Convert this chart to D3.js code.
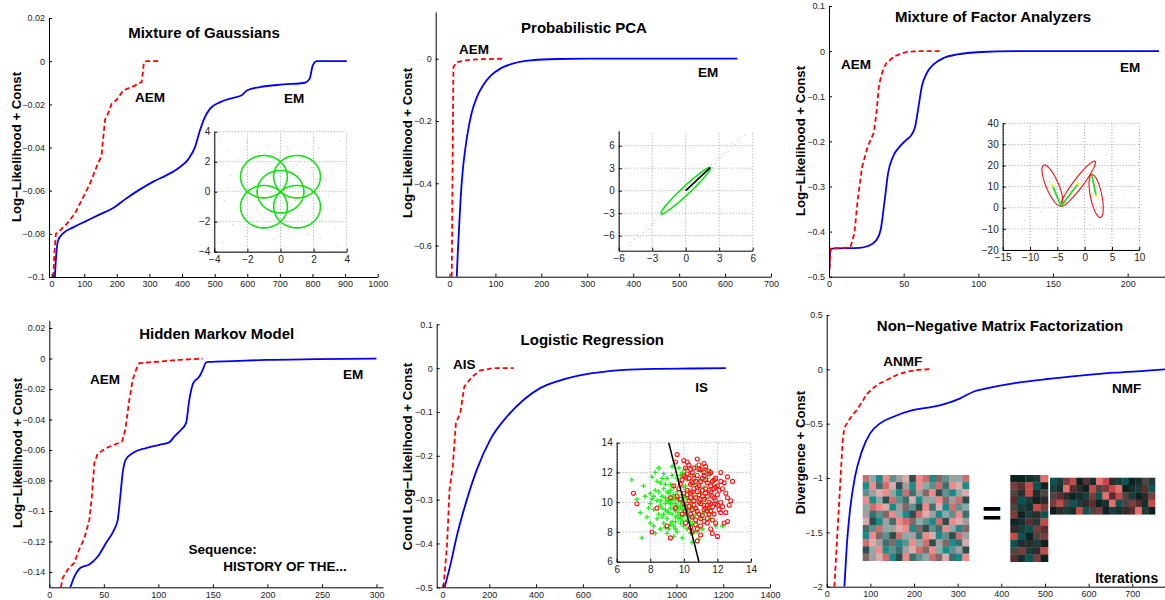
<!DOCTYPE html>
<html>
<head>
<meta charset="utf-8">
<script src="https://cdnjs.cloudflare.com/ajax/libs/d3/7.8.5/d3.min.js"></script>
<style>
    body { margin: 0; background: #fff; }
    svg text { font-family: "Liberation Sans", Arial, sans-serif; }
</style>
</head>
<body>
<script>
// ---- curves: [iteration, value] ----
const mogAem = [[5,-0.1],[9,-0.088],[13,-0.08],[25,-0.0785],[46,-0.0755],[72,-0.0705],[97,-0.063],[117,-0.057],[143,-0.047],[153,-0.044],[158,-0.036],[164,-0.027],[174,-0.024],[184,-0.0197],[199,-0.018],[220,-0.0135],[250,-0.0117],[276,-0.0097],[280,-0.005],[283,-0.0005],[291,0],[332,0]];
const mogEm = [[10,-0.1],[14,-0.09],[20,-0.083],[36,-0.0797],[66,-0.077],[107,-0.074],[148,-0.071],[189,-0.068],[230,-0.0635],[271,-0.0594],[312,-0.0558],[353,-0.0528],[394,-0.049],[419,-0.0455],[440,-0.0397],[455,-0.032],[468,-0.0266],[486,-0.022],[517,-0.019],[557,-0.017],[583,-0.0158],[600,-0.0135],[639,-0.012],[711,-0.0108],[777,-0.01],[791,-0.0082],[801,-0.002],[813,0],[905,0]];

const ppcaAem = [[5,-0.7],[7,-0.3],[8.6,-0.027],[15.8,-0.011],[37,-0.005],[59,-0.002],[120,0]];
const ppcaEm = [[15.8,-0.7],[18,-0.626],[21,-0.54],[24.5,-0.444],[29,-0.358],[34,-0.294],[40,-0.235],[48,-0.176],[59,-0.126],[73,-0.086],[91,-0.053],[113,-0.03],[142,-0.014],[181,-0.005],[232,-0.001],[304,0],[627,0]];

const mfaAem = [[0,-0.5],[1.1,-0.437],[3.4,-0.437],[11.3,-0.436],[14.7,-0.431],[17,-0.404],[19.2,-0.33],[22.2,-0.256],[26,-0.211],[30,-0.181],[31.7,-0.139],[33.5,-0.074],[36.2,-0.041],[38.5,-0.026],[44,-0.011],[52,-0.0015],[61,0],[74.7,0]];
const mfaEm = [[0,-0.5],[1.1,-0.44],[3.4,-0.437],[20.4,-0.436],[26,-0.432],[31.7,-0.419],[34.6,-0.396],[37.3,-0.33],[39.6,-0.27],[43,-0.233],[47.5,-0.211],[52,-0.196],[55.4,-0.185],[57.7,-0.167],[60,-0.122],[62.2,-0.078],[65.6,-0.048],[70,-0.0296],[77,-0.0148],[86,-0.0074],[102,-0.002],[124,0],[221,0]];

const hmmAem = [[10.7,-0.15],[12.2,-0.144],[16.8,-0.1385],[22.9,-0.134],[27.5,-0.125],[32.1,-0.118],[36.7,-0.106],[39.1,-0.09],[41.3,-0.0686],[44.3,-0.0625],[52,-0.0587],[59.6,-0.0566],[66.7,-0.0544],[69.7,-0.0467],[73.4,-0.027],[76.5,-0.014],[79.5,-0.0074],[82.6,-0.003],[101,-0.002],[119,-0.0009],[140.7,0]];
const hmmEm = [[19.3,-0.15],[23,-0.143],[29,-0.137],[36.7,-0.135],[44.3,-0.13],[52,-0.121],[59.6,-0.112],[62.7,-0.106],[64.8,-0.0926],[67.3,-0.075],[70.3,-0.066],[76.5,-0.062],[88.7,-0.0587],[101,-0.0566],[110,-0.055],[114.7,-0.0511],[120.8,-0.0467],[125.4,-0.0424],[128.4,-0.027],[132,-0.0162],[137.6,-0.0118],[140.7,-0.0074],[143.7,-0.0026],[146.8,-0.0022],[168,-0.0017],[199,-0.0009],[245,-0.0004],[300,0]];

const lrAis = [[4,-0.5],[19,-0.405],[30,-0.277],[44,-0.223],[57,-0.125],[76,-0.102],[93,-0.042],[126,-0.02],[161,-0.0053],[219,0],[304,0]];
const lrIs = [[9,-0.5],[33,-0.45],[61,-0.383],[104,-0.3],[147,-0.231],[204,-0.163],[276,-0.11],[347,-0.072],[419,-0.045],[490,-0.03],[576,-0.0174],[661,-0.01],[776,-0.0038],[919,-0.0015],[1061,-0.0008],[1211,0]];

const nmfAnmf = [[17.6,-2],[24.5,-1.51],[30.6,-1.08],[36.7,-0.65],[40.5,-0.537],[53.5,-0.45],[68.8,-0.374],[84,-0.282],[90,-0.236],[103,-0.184],[118.5,-0.135],[137.6,-0.098],[160.6,-0.052],[183.5,-0.0215],[206.4,-0.006],[240.8,0.003]];
const nmfNmf = [[40.5,-2],[45.9,-1.63],[53.5,-1.29],[65,-0.985],[80.3,-0.757],[99.4,-0.589],[122.3,-0.497],[153,-0.436],[199,-0.374],[245,-0.344],[275,-0.313],[306,-0.267],[336,-0.206],[367,-0.175],[428,-0.129],[505,-0.089],[581,-0.058],[658,-0.031],[734,-0.012],[776,0]];

// ---- tick labels ----
const mogXTicks = [0,100,200,300,400,500,600,700,800,900,1000];
const mogYTicks = [-0.1,-0.08,-0.06,-0.04,-0.02,0,0.02];
const ppcaXTicks = [0,100,200,300,400,500,600,700];
const ppcaYTicks = [-0.6,-0.4,-0.2,0];
const mfaXTicks = [0,50,100,150,200];
const mfaYTicks = [-0.5,-0.4,-0.3,-0.2,-0.1,0,0.1];
const hmmXTicks = [0,50,100,150,200,250,300];
const hmmYTicks = [-0.14,-0.12,-0.1,-0.08,-0.06,-0.04,-0.02,0,0.02];
const lrXTicks = [0,200,400,600,800,1000,1200,1400];
const lrYTicks = [-0.5,-0.4,-0.3,-0.2,-0.1,0,0.1];
const nmfXTicks = [0,100,200,300,400,500,600,700];
const nmfYTicks = [-2,-1.5,-1,-0.5,0,0.5];

const mogInsetTicks = [-4,-2,0,2,4];
const ppcaInsetTicks = [-6,-3,0,3,6];
const mfaInsetXTicks = [-15,-10,-5,0,5,10];
const mfaInsetYTicks = [-20,-10,0,10,20,30,40];
const lrInsetTicks = [6,8,10,12,14];

// ---- inset contents ----
const mogCenters = [[-1,1],[1,1],[0,0],[-1,-1],[1,-1]];
const mogRadius = 1.414;
const mogCloud = [[-3.2,2.8],[-2.7,-1.2],[-2.4,0.6],[-2.1,-2.9],[-1.8,1.9],[-1.5,-0.4],[-1.3,2.6],[-1.1,-1.8],[-0.9,0.9],[-0.7,-2.6],[-0.5,1.5],[-0.3,-0.9],[-0.1,2.2],[0.1,-1.4],[0.3,0.4],[0.5,-2.2],[0.7,1.2],[0.9,-0.6],[1.1,2.4],[1.3,-1.6],[1.5,0.2],[1.7,-2.8],[1.9,1.6],[2.1,-0.8],[2.3,2.9],[2.5,-1.9],[2.7,0.8],[2.9,-0.2],[3.1,1.4],[3.3,-2.5],[-3.4,-0.6],[-3.0,1.1],[-2.9,-2.2],[-2.6,2.2],[-2.2,-0.9],[-1.9,0.1],[-1.6,-2.3],[-1.2,0.5],[-0.8,3.1],[-0.4,-3.2],[0.0,1.0],[0.4,3.0],[0.8,-3.0],[1.2,0.8],[1.6,3.2],[2.0,0.0],[2.4,-3.1],[2.8,2.0],[3.2,-1.2],[-2.0,3.3],[0.2,-0.2],[-0.6,0.3],[0.6,-1.0],[1.0,1.8],[-1.4,-1.2],[-3.6,3.5],[3.6,3.4],[-3.5,-3.4],[3.5,-3.6]];

const ppcaCloud = [[-5,-7.3],[-4.6,-6.5],[-4.2,-6.2],[-3.8,-5.6],[-3.5,-4.8],[-3.1,-4.6],[-2.8,-3.9],[-2.5,-3.6],[-2.2,-3.3],[-1.9,-2.5],[-1.6,-2.4],[-1.3,-1.7],[-1.0,-1.6],[-0.7,-0.8],[-0.4,-0.7],[-0.1,0.1],[0.2,0.2],[0.5,0.9],[0.8,1.0],[1.1,1.7],[1.4,1.9],[1.7,2.6],[2.0,2.8],[2.3,3.5],[2.6,3.6],[2.9,4.3],[3.2,4.4],[3.5,5.1],[3.8,5.2],[4.1,5.9],[4.4,6.1],[4.7,6.7],[5.0,6.9],[5.3,7.4],[-4.9,-6.9],[-3.3,-5.1],[-2.9,-4.4],[-2.0,-3.0],[-1.2,-2.0],[-0.3,-0.2],[0.6,0.6],[1.5,2.3],[2.4,3.1],[3.3,4.8],[4.2,6.4],[4.9,7.2],[-4.4,-5.9],[-3.6,-5.3],[1.0,1.2],[2.8,3.9]];

const mfaCenters = [[-5.9,10.5],[-1.2,11.4],[2.1,5.6]];
const mfaTips = [[-4.3,0.8],[-4.3,0.8],[1.3,15.8]];
const mfaWidths = [0.28,0.17,0.26];
const mfaCloud = [[-8,18],[-7.2,15],[-6.5,12],[-6.8,8],[-5.5,6],[-5,3],[-4.5,1],[-3.8,-1],[-4.2,4],[-3,5],[-2.5,8],[-1.5,10],[-0.5,13],[0.5,16],[1.2,18],[2,20],[-2,6],[-1,9],[0,11],[1,14],[1.5,12],[2,8],[2.5,4],[3,0],[3.2,-3],[2.8,2],[1.8,6],[2.2,10],[-6,14],[-7,10],[-5.2,9],[-3.5,3],[-9,5],[-10,12],[4,-8],[5,-2],[-2,-5],[0,-2],[-4,15],[3,14],[-8,-2],[6,18],[-11,-6],[1,-8],[-6,24],[4,25],[-12,16],[7,6]];

const ppcaAxisStart = [0,0];
const ppcaAxisTip = [2.2,3.07];
const ppcaWidth = 0.12;

const lrBoundary = [[9.1,14],[10.9,6]];
const lrGreen = [[6.9,11.5],[7.5,7.6],[7.2,10.2],[7.6,11.1],[7.8,9.0],[8.0,8.6],[8.1,11.7],[8.3,12.0],[8.0,10.6],[7.9,9.6],[8.3,7.9],[8.5,12.3],[8.6,8.2],[8.8,11.9],[9.3,12.4],[9.7,12.3],[10.1,12.2],[10.7,12.4],[11.0,12.1],[11.3,12.2],[11.9,8.4],[11.6,8.9],[11.2,11.0],[10.9,7.5],[10.5,7.3],[9.9,7.6],[9.4,7.7],[9.0,7.9],[8.9,8.3],[9.6,8.0],[8.5,9.2],[8.6,9.8],[8.7,10.4],[8.8,10.9],[8.9,9.5],[9.0,10.1],[9.0,8.9],[9.1,10.6],[9.1,9.3],[9.2,11.2],[9.2,9.9],[9.3,10.4],[9.3,8.7],[9.4,9.6],[9.4,11.0],[9.5,10.2],[9.5,9.0],[9.6,9.8],[9.6,10.7],[9.7,9.3],[9.7,11.4],[9.8,10.0],[9.8,8.6],[9.9,10.5],[9.9,9.5],[10.0,11.0],[10.0,9.1],[10.1,9.8],[10.1,10.3],[10.2,8.8],[10.3,9.5],[10.3,10.8],[10.4,9.9],[10.5,8.5],[10.6,10.4],[10.7,9.2],[10.8,8.0],[8.4,10.1],[8.2,9.5],[8.6,11.3],[8.8,8.6],[9.0,11.6],[9.4,8.4],[9.8,11.8],[10.2,11.5],[10.4,11.9],[10.6,11.2],[10.9,10.0],[11.0,9.0],[11.3,10.2],[11.5,9.6],[8.3,10.8],[8.9,10.3],[9.2,9.6],[9.5,9.4],[9.7,10.1],[10.0,9.7],[9.6,9.1],[9.3,9.9],[8.7,9.0],[9.1,8.2],[9.5,8.2],[10.2,8.2],[10.6,8.0],[10.4,7.9],[10.0,8.4],[11.2,9.3],[10.9,11.5],[11.5,12.0],[12.3,8.4],[8.1,10.2],[8.4,8.9],[8.7,11.6],[9.2,10.8],[9.8,9.0],[10.3,10.2],[9.4,10.5],[8.9,11.2],[9.6,11.6],[10.1,11.1],[8.2,10.4],[8.5,10.7],[8.7,9.6],[8.9,9.9],[9.0,9.4],[9.1,10.0],[9.2,10.1],[9.3,9.2],[9.4,10.2],[9.5,9.9],[9.6,10.3],[9.7,9.6],[9.8,9.7],[9.9,10.1],[10.0,10.4],[10.1,9.2],[10.2,9.6],[10.3,9.0],[10.5,9.7],[10.6,9.0],[8.6,10.1],[8.8,9.2],[9.0,10.7],[9.2,8.5],[9.5,8.7],[9.7,8.9],[9.9,8.8],[10.4,8.7],[10.8,8.6],[11.1,8.2],[8.0,9.9],[7.7,10.4],[8.4,11.4],[9.3,11.8],[9.9,12.0],[10.6,11.8],[11.0,10.6],[11.4,11.6],[7.4,9.3],[8.2,8.4]];
const lrRed = [[7.0,10.6],[7.2,9.9],[8.1,8.0],[8.4,9.6],[9.2,7.6],[9.0,8.4],[9.6,13.2],[9.5,12.7],[10.0,12.8],[10.2,12.7],[10.3,12.5],[10.8,12.9],[11.2,12.0],[11.5,11.9],[11.9,11.6],[12.2,12.0],[12.9,11.4],[12.6,10.3],[12.7,9.8],[12.5,9.3],[12.6,8.7],[12.2,9.3],[12.0,7.7],[11.6,8.2],[11.4,8.6],[11.0,7.8],[10.8,7.4],[10.5,8.0],[11.7,7.9],[12.3,10.9],[12.4,8.6],[11.9,8.6],[9.7,10.9],[9.8,10.2],[9.9,11.5],[10.0,10.6],[10.1,9.4],[10.2,11.9],[10.3,10.1],[10.4,11.2],[10.4,9.2],[10.5,10.7],[10.5,12.0],[10.6,9.8],[10.6,11.6],[10.7,10.3],[10.7,8.8],[10.8,11.0],[10.8,9.4],[10.9,12.2],[10.9,10.5],[11.0,9.9],[11.0,11.4],[11.1,10.8],[11.1,9.1],[11.2,10.2],[11.2,11.8],[11.3,9.6],[11.3,10.9],[11.4,10.4],[11.4,11.3],[11.5,9.2],[11.5,10.0],[11.6,10.7],[11.6,11.1],[11.7,9.7],[11.8,10.3],[11.8,10.9],[11.9,9.9],[12.0,10.5],[12.0,11.1],[12.1,9.5],[10.2,10.5],[10.3,11.6],[10.0,9.9],[9.6,10.4],[9.9,9.2],[10.1,8.6],[10.4,8.3],[10.8,8.2],[11.2,8.7],[11.0,8.4],[10.5,9.5],[10.7,9.6],[10.9,10.0],[11.1,10.4],[11.3,11.5],[10.6,10.9],[10.8,11.8],[11.0,12.2],[10.4,10.3],[9.4,11.1],[9.2,10.3],[9.5,9.6],[11.7,8.8],[12.2,10.0],[12.4,11.3],[11.5,12.1],[10.1,12.3],[11.9,10.1],[11.4,9.8],[10.9,9.2],[11.7,11.4],[10.6,12.3],[10.2,10.8],[10.4,10.6],[10.5,11.3],[10.6,10.1],[10.7,11.4],[10.8,10.7],[10.9,11.1],[11.0,10.2],[11.1,11.6],[11.2,9.8],[11.3,10.6],[11.4,9.4],[11.5,10.8],[11.6,9.9],[11.7,10.4],[11.8,11.5],[11.9,11.0],[12.0,9.8],[12.1,10.8],[12.2,11.4],[10.3,9.7],[10.5,9.0],[10.7,8.5],[11.0,8.9],[11.2,9.5],[11.4,8.9],[11.6,9.4],[11.8,9.2],[12.3,9.7],[12.5,10.6],[10.1,11.7],[10.4,12.2],[10.9,12.5],[11.3,12.4],[11.6,12.0],[11.2,12.6],[9.8,11.2],[10.0,11.8],[12.8,10.1],[12.6,11.7]];

// ---- NMF matrices: each digit is a colour index ----
const nmfV = ["4812536024175384","1294603128549261","5362814937205186","2180459613827340","8426137502961458","3957281046318529","6013924785140263","9548362170592817","1275048392615043","4639715284037196","0821593647281530","7364102958476912"];
const nmfW = ["00916","82350","47394","25107","41938","80175","09213","71582","35048","59710","48173","29580"];
const nmfH = ["5183029637150941","1962703483609125","4270918562341078","8345172096548293","0719354801972610"];
const lightColors = ["#2e4e4c","#178c8a","#f08a8a","#a39d9d","#cf6c6c","#5f908c","#d9abab","#806868","#8aaaa8","#3c706e"];
const darkColors = ["#0e2222","#1e3c3a","#5a2e2e","#c44a4a","#4e4444","#0b5451","#e86e6e","#2c2c2c","#7a3c3c","#16302e"];

// ---- drawing ----
const fmt = d3.format("~g");
const svg = d3.select("body").append("svg").attr("width", 1165).attr("height", 600);

function styleAxis(sel, size) {
    sel.select(".domain").attr("stroke", "#000").attr("stroke-width", 1);
    sel.selectAll(".tick line").attr("stroke", "#000");
    sel.selectAll(".tick text").attr("font-size", size).attr("fill", "#222")
        .attr("font-family", "'Liberation Sans', Arial, sans-serif");
    sel.attr("font-size", null).attr("font-family", null);
}

function axes(g, x, y, xt, yt, size) {
    g.append("g").attr("transform", `translate(0,${y.range()[0]})`)
        .call(d3.axisBottom(x).tickValues(xt).tickFormat(fmt).tickSize(-3).tickSizeOuter(0).tickPadding(4))
        .call(s => styleAxis(s, size));
    g.append("g").attr("transform", `translate(${x.range()[0]},0)`)
        .call(d3.axisLeft(y).tickValues(yt).tickFormat(fmt).tickSize(-3).tickSizeOuter(0).tickPadding(4))
        .call(s => styleAxis(s, size));
}

function label(text, x, y, opts = {}) {
    const t = svg.append("text").text(text)
        .attr("x", x).attr("y", y)
        .attr("text-anchor", "middle")
        .attr("dominant-baseline", "central")
        .attr("font-size", opts.size || 13.5)
        .attr("font-weight", "bold")
        .attr("fill", "#000");
    if (opts.rotate) t.attr("transform", `rotate(-90,${x},${y})`);
    return t;
}
const title = (text, x, y) => label(text, x, y, { size: 15 });
const ylabel = (text, x, y) => label(text, x, y, { size: 13.2, rotate: true });

let clipId = 0;
function panel(p) {
    const x = d3.scaleLinear().domain(p.xDomain).range(p.xRange);
    const y = d3.scaleLinear().domain(p.yDomain).range(p.yRange);
    const g = svg.append("g");
    const id = "clip" + (clipId++);
    g.append("clipPath").attr("id", id).append("rect")
        .attr("x", p.xRange[0]).attr("y", p.yRange[1])
        .attr("width", p.xRange[1] - p.xRange[0]).attr("height", p.yRange[0] - p.yRange[1]);
    const plot = g.append("g").attr("clip-path", `url(#${id})`);
    plot.append("path").datum(p.solid)
        .attr("fill", "none").attr("stroke", "#0000ff").attr("stroke-width", 1.8)
        .attr("d", d3.line().x(d => x(d[0])).y(d => y(d[1])).curve(d3.curveMonotoneX));
    plot.append("path").datum(p.dashed)
        .attr("fill", "none").attr("stroke", "#ff0000").attr("stroke-width", 1.8)
        .attr("stroke-dasharray", "5,3")
        .attr("d", d3.line().x(d => x(d[0])).y(d => y(d[1])));
    axes(g, x, y, p.xTicks, p.yTicks, 9);
    return { x, y };
}

function inset(p) {
    const x = d3.scaleLinear().domain(p.xDomain).range(p.xRange);
    const y = d3.scaleLinear().domain(p.yDomain).range(p.yRange);
    const g = svg.append("g");
    g.append("rect").attr("x", p.xRange[0]).attr("y", p.yRange[1])
        .attr("width", p.xRange[1] - p.xRange[0]).attr("height", p.yRange[0] - p.yRange[1])
        .attr("fill", "#fff");
    g.selectAll(".gx").data(p.xTicks).enter().append("line")
        .attr("x1", d => x(d)).attr("x2", d => x(d))
        .attr("y1", p.yRange[0]).attr("y2", p.yRange[1])
        .attr("stroke", "#888").attr("stroke-width", 0.8).attr("stroke-dasharray", "1,2");
    g.selectAll(".gy").data(p.yTicks).enter().append("line")
        .attr("y1", d => y(d)).attr("y2", d => y(d))
        .attr("x1", p.xRange[0]).attr("x2", p.xRange[1])
        .attr("stroke", "#888").attr("stroke-width", 0.8).attr("stroke-dasharray", "1,2");
    if (p.cloud) {
        g.selectAll(".pt").data(p.cloud).enter().append("rect")
            .attr("x", d => x(d[0]) - 0.6).attr("y", d => y(d[1]) - 0.6)
            .attr("width", 1.2).attr("height", 1.2)
            .attr("fill", "#b4b4ee").attr("opacity", 0.7);
    }
    const content = g.append("g");
    axes(g, x, y, p.xTicks, p.yTicks, 10);
    return { x, y, g: content };
}

// ellipse drawn in pixel space from a centre, a tip (end of major semi-axis) and a width ratio
function ellipsePath(x, y, c, t, ratio) {
    const cx = x(c[0]), cy = y(c[1]);
    const ux = x(t[0]) - cx, uy = y(t[1]) - cy;
    const px = -uy * ratio, py = ux * ratio;
    const angles = d3.range(0, 2 * Math.PI + 0.01, Math.PI / 40);
    return d3.line()(angles.map(a => [cx + ux * Math.cos(a) + px * Math.sin(a), cy + uy * Math.cos(a) + py * Math.sin(a)]));
}

// Panel 1: Mixture of Gaussians
panel({ xDomain: [-8, 1000], xRange: [49, 377.7], yDomain: [-0.1, 0.02], yRange: [277, 18],
    solid: mogEm, dashed: mogAem, xTicks: mogXTicks, yTicks: mogYTicks });
title("Mixture of Gaussians", 204, 32);
ylabel("Log\u2212Likelihood + Const", 16, 147);
label("AEM", 150, 97);
label("EM", 294, 98);
{
    const ins = inset({ xDomain: [-4, 4], xRange: [214.3, 346.7], yDomain: [-4, 4], yRange: [251.7, 131.7],
        xTicks: mogInsetTicks, yTicks: mogInsetTicks, cloud: mogCloud });
    const angles = d3.range(0, 2 * Math.PI + 0.01, Math.PI / 40);
    ins.g.selectAll("path").data(mogCenters).enter().append("path")
        .attr("fill", "none").attr("stroke", "#14e014").attr("stroke-width", 1.6)
        .attr("d", c => d3.line()(angles.map(a => [ins.x(c[0] + mogRadius * Math.cos(a)), ins.y(c[1] + mogRadius * Math.sin(a))])));
}

// Panel 2: Probabilistic PCA
panel({ xDomain: [-30, 700], xRange: [435.7, 771], yDomain: [-0.7, 0.15], yRange: [276.7, 12],
    solid: ppcaEm, dashed: ppcaAem, xTicks: ppcaXTicks, yTicks: ppcaYTicks });
title("Probabilistic PCA", 584, 27);
ylabel("Log\u2212Likelihood + Const", 407, 143);
label("AEM", 474, 49);
label("EM", 708, 72);
{
    const ins = inset({ xDomain: [-6, 6], xRange: [618.7, 752.7], yDomain: [-8, 8], yRange: [250.7, 130.7],
        xTicks: ppcaInsetTicks, yTicks: ppcaInsetTicks, cloud: ppcaCloud });
    ins.g.append("path").attr("fill", "none").attr("stroke", "#14e014").attr("stroke-width", 1.6)
        .attr("d", ellipsePath(ins.x, ins.y, ppcaAxisStart, ppcaAxisTip, ppcaWidth));
    ins.g.append("line")
        .attr("x1", ins.x(ppcaAxisStart[0])).attr("y1", ins.y(ppcaAxisStart[1]))
        .attr("x2", ins.x(ppcaAxisTip[0])).attr("y2", ins.y(ppcaAxisTip[1]))
        .attr("stroke", "#000").attr("stroke-width", 1.6);
}

// Panel 3: Mixture of Factor Analyzers
panel({ xDomain: [0, 225], xRange: [829, 1165], yDomain: [-0.5, 0.1], yRange: [276.7, 6],
    solid: mfaEm, dashed: mfaAem, xTicks: mfaXTicks, yTicks: mfaYTicks });
title("Mixture of Factor Analyzers", 993, 16);
ylabel("Log\u2212Likelihood + Const", 800, 141);
label("AEM", 856, 64);
label("EM", 1130, 67);
{
    const ins = inset({ xDomain: [-15, 10], xRange: [1002.7, 1139.3], yDomain: [-20, 40], yRange: [250, 123.3],
        xTicks: mfaInsetXTicks, yTicks: mfaInsetYTicks, cloud: mfaCloud });
    ins.g.selectAll(".ell").data(mfaCenters).enter().append("path")
        .attr("fill", "none").attr("stroke", "#ee1111").attr("stroke-width", 1.1)
        .attr("d", (c, i) => ellipsePath(ins.x, ins.y, c, mfaTips[i], mfaWidths[i]));
    ins.g.selectAll(".ld").data(mfaCenters).enter().append("line")
        .attr("x1", c => ins.x(c[0])).attr("y1", c => ins.y(c[1]))
        .attr("x2", (c, i) => ins.x(mfaTips[i][0])).attr("y2", (c, i) => ins.y(mfaTips[i][1]))
        .attr("stroke", "#22dd22").attr("stroke-width", 1.8);
    ins.g.selectAll(".ctr").data(mfaCenters).enter().append("rect")
        .attr("x", c => ins.x(c[0]) - 1.5).attr("y", c => ins.y(c[1]) - 1.5)
        .attr("width", 3).attr("height", 3).attr("fill", "#eeff22");
}

// Panel 4: Hidden Markov Model
panel({ xDomain: [0, 306], xRange: [49.3, 383], yDomain: [-0.15, 0.025], yRange: [587.3, 320.4],
    solid: hmmEm, dashed: hmmAem, xTicks: hmmXTicks, yTicks: hmmYTicks });
title("Hidden Markov Model", 216.7, 333);
ylabel("Log\u2212Likelihood + Const", 17, 453);
label("AEM", 105, 379);
label("EM", 353, 374);
label("Sequence:", 222.7, 549);
label("HISTORY OF THE...", 285, 566.7);

// Panel 5: Logistic Regression
panel({ xDomain: [-25, 1400], xRange: [436.7, 770], yDomain: [-0.5, 0.1], yRange: [587.3, 324.3],
    solid: lrIs, dashed: lrAis, xTicks: lrXTicks, yTicks: lrYTicks });
title("Logistic Regression", 592.3, 339.3);
ylabel("Cond Log\u2212Likelihood + Const", 407.3, 456.7);
label("AIS", 464.3, 364.3);
label("IS", 701.7, 387.3);
{
    const ins = inset({ xDomain: [6, 14], xRange: [616.7, 751], yDomain: [6, 14], yRange: [561.7, 442.7],
        xTicks: lrInsetTicks, yTicks: lrInsetTicks });
    ins.g.selectAll(".plus").data(lrGreen).enter().append("path")
        .attr("d", d => `M${ins.x(d[0]) - 2.4},${ins.y(d[1])}h4.8M${ins.x(d[0])},${ins.y(d[1]) - 2.4}v4.8`)
        .attr("stroke", "#22ee22").attr("stroke-width", 1.3);
    ins.g.selectAll(".circ").data(lrRed).enter().append("circle")
        .attr("cx", d => ins.x(d[0])).attr("cy", d => ins.y(d[1])).attr("r", 2)
        .attr("fill", "none").attr("stroke", "#ff1111").attr("stroke-width", 1.1);
    ins.g.append("line")
        .attr("x1", ins.x(lrBoundary[0][0])).attr("y1", ins.y(lrBoundary[0][1]))
        .attr("x2", ins.x(lrBoundary[1][0])).attr("y2", ins.y(lrBoundary[1][1]))
        .attr("stroke", "#000").attr("stroke-width", 1.5);
}

// Panel 6: Non-Negative Matrix Factorization
panel({ xDomain: [0, 775], xRange: [826.7, 1165], yDomain: [-2, 0.5], yRange: [586.7, 315],
    solid: nmfNmf, dashed: nmfAnmf, xTicks: nmfXTicks, yTicks: nmfYTicks });
title("Non\u2212Negative Matrix Factorization", 1000, 325);
ylabel("Divergence + Const", 800, 452.5);
label("ANMF", 902.7, 361);
label("NMF", 1126.7, 388.3);
label("Iterations", 1126.7, 577.7, { size: 14 });

function heatmap(rows, colors, xr, yr) {
    const cols = d3.range(rows[0].length);
    const bx = d3.scaleBand().domain(cols).range(xr);
    const by = d3.scaleBand().domain(d3.range(rows.length)).range(yr);
    const color = d3.scaleOrdinal().domain(d3.range(10)).range(colors);
    const cells = rows.flatMap((r, i) => r.split("").map((c, j) => ({ i, j, v: +c })));
    svg.append("g").selectAll("rect").data(cells).enter().append("rect")
        .attr("x", d => bx(d.j)).attr("y", d => by(d.i))
        .attr("width", bx.bandwidth() + 0.3).attr("height", by.bandwidth() + 0.3)
        .attr("fill", d => color(d.v));
}
heatmap(nmfV, lightColors, [862.7, 969], [475, 560.7]);
heatmap(nmfW, darkColors, [1010.3, 1048], [475, 561.7]);
heatmap(nmfH, darkColors, [1050, 1155], [477.7, 514.3]);
svg.append("text").text("=").attr("x", 992).attr("y", 524.5)
    .attr("text-anchor", "middle").attr("font-size", 33).attr("font-weight", "bold");
</script>
</body>
</html>
